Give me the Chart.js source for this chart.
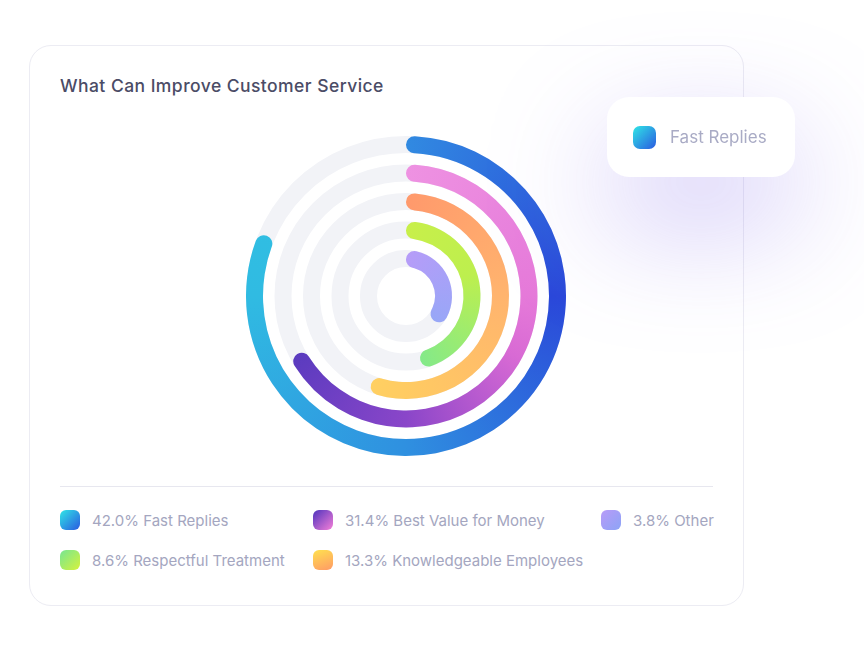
<!DOCTYPE html>
<html>
<head>
<meta charset="utf-8">
<script src="https://cdn.jsdelivr.net/npm/chart.js@4.4.0/dist/chart.umd.min.js"></script>
<style>
    body {
        margin: 0;
        width: 864px;
        height: 653px;
        background: #fff;
        font-family: Inter, 'Noto Sans', sans-serif;
        position: relative;
        overflow: hidden;
    }
    .card {
        position: absolute;
        left: 29px;
        top: 45px;
        width: 713px;
        height: 559px;
        border: 1.5px solid #ececf3;
        border-radius: 22px;
        background: #fff;
    }
    .title {
        position: absolute;
        left: 60px;
        top: 75px;
        font-size: 17.5px;
        font-weight: 500;
        color: #4b4c66;
        letter-spacing: 0.45px;
    }
    .chart-box {
        position: absolute;
        left: 246px;
        top: 136px;
        width: 320px;
        height: 320px;
    }
    .divider {
        position: absolute;
        left: 60px;
        top: 486px;
        width: 653px;
        height: 1px;
        background: #e7e7ef;
    }
    .legend {
        position: absolute;
        left: 60px;
        top: 500px;
        display: grid;
        grid-template-columns: 253px 288px auto;
        grid-auto-rows: 40px;
    }
    .legend-item {
        display: flex;
        align-items: center;
        font-size: 15px;
        color: #a4a6c0;
    }
    .swatch {
        width: 20px;
        height: 20px;
        border-radius: 6px;
        margin-right: 12px;
        flex: none;
    }
    .tip {
        position: absolute;
        left: 607px;
        top: 97px;
        width: 188px;
        height: 80px;
        border-radius: 22px;
        background: #fff;
        box-shadow: 0 45px 120px rgba(125, 100, 235, 0.40);
        display: flex;
        align-items: center;
        font-size: 17px;
        color: #a9abc5;
    }
    .tip .swatch {
        width: 23px;
        height: 23px;
        border-radius: 7px;
        margin-left: 26px;
        margin-right: 14px;
    }
</style>
</head>
<body>
<div class="card"></div>
<div class="title">What Can Improve Customer Service</div>
<div class="chart-box"><canvas id="radialChart"></canvas></div>
<div class="divider"></div>
<div class="legend" id="legend"></div>
<div class="tip"><span class="swatch" id="tip-swatch"></span><span id="tip-label"></span></div>

<script>
// Data (rings listed from outer to inner)
const categories = ['Fast Replies', 'Best Value for Money', 'Knowledgeable Employees', 'Respectful Treatment', 'Other'];
const shares = [42.0, 31.4, 13.3, 8.6, 3.8];
// how far each ring is filled, % of a full turn, as drawn
const ringFill = [81.5, 67.2, 56.0, 46.5, 36.5];
const legendOrder = [0, 1, 4, 3, 2];

// Styles
const ringStops = [
    [[0, '#318ae1'], [0.25, '#2b48d9'], [0.5, '#2f90e0'], [0.75, '#30bbe2'], [1, '#30c4e3']],
    [[0, '#ee92e2'], [0.25, '#e67ad9'], [0.33, '#d86ad4'], [0.45, '#a250cc'], [0.5, '#8a46c9'], [0.67, '#5b3bbf'], [1, '#5b3bbf']],
    [[0, '#ff996c'], [0.25, '#ffb46e'], [0.5, '#ffcb62'], [0.56, '#ffd062'], [1, '#ffd062']],
    [[0, '#c8ef4a'], [0.2, '#bdef4e'], [0.47, '#82e98b'], [1, '#82e98b']],
    [[0, '#b69cf8'], [0.37, '#97a7f7'], [1, '#97a7f7']]
];
const swatchCss = [
    'linear-gradient(135deg, #2fe6e6, #2a5ae0)',
    'linear-gradient(135deg, #4f33bd, #f57fd8)',
    'linear-gradient(160deg, #ffe14f, #ff9a66)',
    'linear-gradient(135deg, #76e693, #d6f23c)',
    'linear-gradient(135deg, #b89bf8, #8ca4f6)'
];
const trackColor = '#f2f3f7';
const ringWeight = 17;
const gapWeight = 11.5;

// Legend
const legendEl = document.getElementById('legend');
legendOrder.forEach(i => {
    const item = document.createElement('div');
    item.className = 'legend-item';
    item.innerHTML = '<span class="swatch" style="background:' + swatchCss[i] + '"></span>' +
        shares[i].toFixed(1) + '% ' + categories[i];
    legendEl.appendChild(item);
});
document.getElementById('tip-swatch').style.background = swatchCss[0];
document.getElementById('tip-label').textContent = categories[0];

// Conic gradient along each ring
function ringGradient(c, ring) {
    const area = c.chart.chartArea;
    if (!area) return ringStops[ring][0][1];
    const cx = (area.left + area.right) / 2;
    const cy = (area.top + area.bottom) / 2;
    const g = c.chart.ctx.createConicGradient(-Math.PI / 2, cx, cy);
    ringStops[ring].forEach(s => g.addColorStop(s[0], s[1]));
    return g;
}

// Build datasets: ring, spacer, ring, spacer ...
const datasets = [];
categories.forEach((name, i) => {
    datasets.push({
        label: name,
        data: [ringFill[i], 100 - ringFill[i]],
        weight: ringWeight,
        borderWidth: 0,
        borderRadius: c => c.dataIndex === 0 ? 9 : 0,
        backgroundColor: c => c.dataIndex === 0 ? ringGradient(c, i) : 'rgba(0,0,0,0)',
        isRing: true
    });
    if (i < categories.length - 1) {
        datasets.push({
            label: '',
            data: [100],
            weight: gapWeight,
            borderWidth: 0,
            backgroundColor: 'rgba(0,0,0,0)'
        });
    }
});

// Grey full tracks behind each ring
const trackPlugin = {
    id: 'tracks',
    beforeDatasetsDraw(chart) {
        const ctx = chart.ctx;
        chart.data.datasets.forEach((ds, i) => {
            if (!ds.isRing) return;
            const arc = chart.getDatasetMeta(i).data[0];
            if (!arc) return;
            ctx.save();
            ctx.beginPath();
            ctx.arc(arc.x, arc.y, (arc.outerRadius + arc.innerRadius) / 2, 0, Math.PI * 2);
            ctx.lineWidth = arc.outerRadius - arc.innerRadius;
            ctx.strokeStyle = trackColor;
            ctx.stroke();
            ctx.restore();
        });
    }
};

new Chart(document.getElementById('radialChart'), {
    type: 'doughnut',
    data: {
        labels: ['value', 'rest'],
        datasets: datasets
    },
    options: {
        responsive: true,
        maintainAspectRatio: false,
        animation: false,
        cutout: 29,
        layout: { padding: 0 },
        plugins: {
            legend: { display: false },
            tooltip: { enabled: false }
        }
    },
    plugins: [trackPlugin]
});
</script>
</body>
</html>
